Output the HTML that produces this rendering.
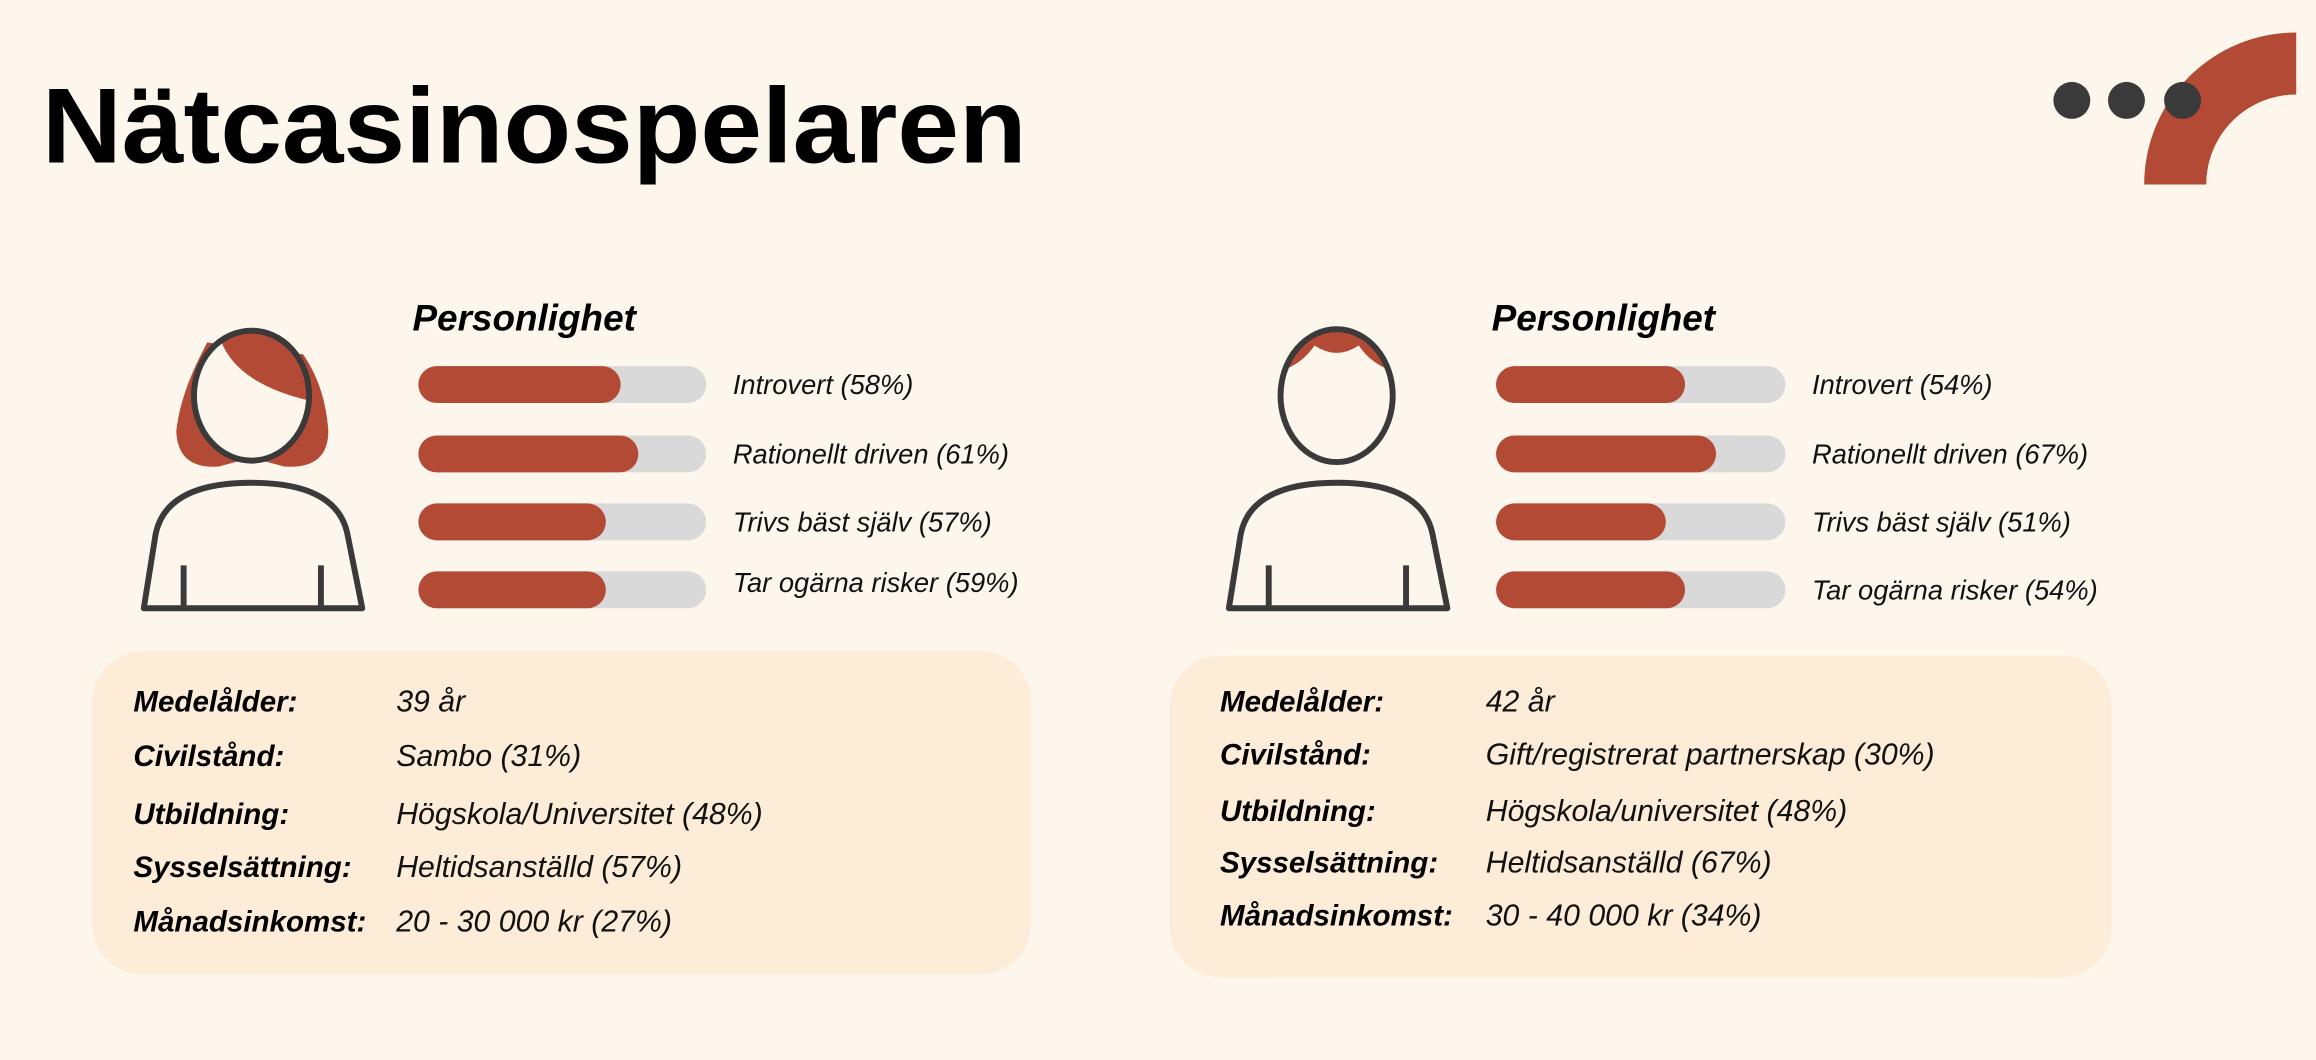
<!DOCTYPE html>
<html><head><meta charset="utf-8"><style>
html,body{margin:0;padding:0;background:#fdf6ec;}
svg{display:block}
text{font-family:"Liberation Sans",sans-serif;}
.lab{font-size:18.5px;font-style:italic;fill:#111;}
.h{font-size:25px;font-weight:bold;font-style:italic;fill:#000;}
.k{font-size:20px;font-weight:bold;font-style:italic;fill:#000;}
.v{font-size:20.5px;font-style:italic;fill:#111;}
</style></head><body>
<svg width="2316" height="1060" viewBox="0 0 1568 718" xmlns="http://www.w3.org/2000/svg">
<rect width="1568" height="718" fill="#fdf6ec"/>
<text x="28" y="110" font-size="72" font-weight="bold" fill="#000" textLength="667" lengthAdjust="spacingAndGlyphs">Nätcasinospelaren</text>
<path d="M1452,125 A103,103 0 0 1 1555,22 L1555,64 A61,61 0 0 0 1494,125 Z" fill="#b34a35"/>
<circle cx="1403" cy="68" r="12.5" fill="#3a3a3a"/>
<circle cx="1440" cy="68" r="12.5" fill="#3a3a3a"/>
<circle cx="1478" cy="68" r="12.5" fill="#3a3a3a"/>
<defs>
<clipPath id="hw"><ellipse cx="170" cy="268" rx="39" ry="44"/></clipPath>
<clipPath id="hm"><ellipse cx="905" cy="268" rx="38" ry="45"/></clipPath>
</defs>
<!-- woman -->
<path d="M140,232 Q122,265 119,292 Q120,318 148,316 L170,310 L192,316 Q222,318 222,292 Q220,262 205,240 Z" fill="#b34a35"/>
<ellipse cx="170" cy="268" rx="39" ry="44" fill="#fdf6ec"/>
<path d="M146,215 Q148,258 212,272 L215,215 Z" fill="#b34a35" clip-path="url(#hw)"/>
<ellipse cx="170" cy="268" rx="39" ry="44" fill="none" stroke="#3a3a3a" stroke-width="4"/>
<path d="M97,412 L105,362 Q112,327 170,327 Q228,327 235,362 L245,412 Z" fill="none" stroke="#3a3a3a" stroke-width="4" stroke-linejoin="round"/>
<line x1="124" y1="383" x2="124" y2="412" stroke="#3a3a3a" stroke-width="4"/>
<line x1="217" y1="383" x2="217" y2="412" stroke="#3a3a3a" stroke-width="4"/>
<!-- man -->
<ellipse cx="905" cy="268" rx="38" ry="45" fill="#fdf6ec"/>
<path d="M860,256 L868,251 Q882,246 890,234 Q905,244 920,234 Q928,246 942,251 L950,256 L950,215 L860,215 Z" fill="#b34a35" clip-path="url(#hm)"/>
<ellipse cx="905" cy="268" rx="38" ry="45" fill="none" stroke="#3a3a3a" stroke-width="4"/>
<path d="M832,412 L840,362 Q847,327 905,327 Q963,327 970,362 L980,412 Z" fill="none" stroke="#3a3a3a" stroke-width="4" stroke-linejoin="round"/>
<line x1="859" y1="383" x2="859" y2="412" stroke="#3a3a3a" stroke-width="4"/>
<line x1="952" y1="383" x2="952" y2="412" stroke="#3a3a3a" stroke-width="4"/>
<!-- left personality -->
<text x="279" y="224" class="h">Personlighet</text>
<g>
<rect x="283" y="248" width="195" height="25" rx="12.5" fill="#d9d9d9"/><rect x="283" y="248" width="137" height="25" rx="12.5" fill="#b34a35"/>
<rect x="283" y="295" width="195" height="25" rx="12.5" fill="#d9d9d9"/><rect x="283" y="295" width="149" height="25" rx="12.5" fill="#b34a35"/>
<rect x="283" y="341" width="195" height="25" rx="12.5" fill="#d9d9d9"/><rect x="283" y="341" width="127" height="25" rx="12.5" fill="#b34a35"/>
<rect x="283" y="387" width="195" height="25" rx="12.5" fill="#d9d9d9"/><rect x="283" y="387" width="127" height="25" rx="12.5" fill="#b34a35"/>
</g>
<text x="496" y="267" class="lab">Introvert (58%)</text>
<text x="496" y="314" class="lab">Rationellt driven (61%)</text>
<text x="496" y="360" class="lab">Trivs bäst själv  (57%)</text>
<text x="496" y="401" class="lab">Tar ogärna risker (59%)</text>
<!-- right personality -->
<text x="1010" y="224" class="h">Personlighet</text>
<g>
<rect x="1013" y="248" width="196" height="25" rx="12.5" fill="#d9d9d9"/><rect x="1013" y="248" width="128" height="25" rx="12.5" fill="#b34a35"/>
<rect x="1013" y="295" width="196" height="25" rx="12.5" fill="#d9d9d9"/><rect x="1013" y="295" width="149" height="25" rx="12.5" fill="#b34a35"/>
<rect x="1013" y="341" width="196" height="25" rx="12.5" fill="#d9d9d9"/><rect x="1013" y="341" width="115" height="25" rx="12.5" fill="#b34a35"/>
<rect x="1013" y="387" width="196" height="25" rx="12.5" fill="#d9d9d9"/><rect x="1013" y="387" width="128" height="25" rx="12.5" fill="#b34a35"/>
</g>
<text x="1227" y="267" class="lab">Introvert (54%)</text>
<text x="1227" y="314" class="lab">Rationellt driven (67%)</text>
<text x="1227" y="360" class="lab">Trivs bäst själv  (51%)</text>
<text x="1227" y="406" class="lab">Tar ogärna risker  (54%)</text>
<!-- boxes -->
<rect x="62" y="441" width="636" height="219" rx="34" fill="#fcecd8"/>
<rect x="792" y="444" width="638" height="218" rx="34" fill="#fcecd8"/>
<g>
<text x="90" y="482" class="k">Medelålder:</text><text x="268" y="482" class="v">39 år</text>
<text x="90" y="519" class="k">Civilstånd:</text><text x="268" y="519" class="v">Sambo (31%)</text>
<text x="90" y="558" class="k">Utbildning:</text><text x="268" y="558" class="v">Högskola/Universitet (48%)</text>
<text x="90" y="594" class="k">Sysselsättning:</text><text x="268" y="594" class="v">Heltidsanställd (57%)</text>
<text x="90" y="631" class="k">Månadsinkomst:</text><text x="268" y="631" class="v">20 - 30 000 kr (27%)</text>
</g>
<g>
<text x="826" y="482" class="k">Medelålder:</text><text x="1006" y="482" class="v">42 år</text>
<text x="826" y="518" class="k">Civilstånd:</text><text x="1006" y="518" class="v">Gift/registrerat partnerskap  (30%)</text>
<text x="826" y="556" class="k">Utbildning:</text><text x="1006" y="556" class="v">Högskola/universitet (48%)</text>
<text x="826" y="591" class="k">Sysselsättning:</text><text x="1006" y="591" class="v">Heltidsanställd (67%)</text>
<text x="826" y="627" class="k">Månadsinkomst:</text><text x="1006" y="627" class="v">30 - 40 000 kr (34%)</text>
</g>
</svg>
</body></html>
